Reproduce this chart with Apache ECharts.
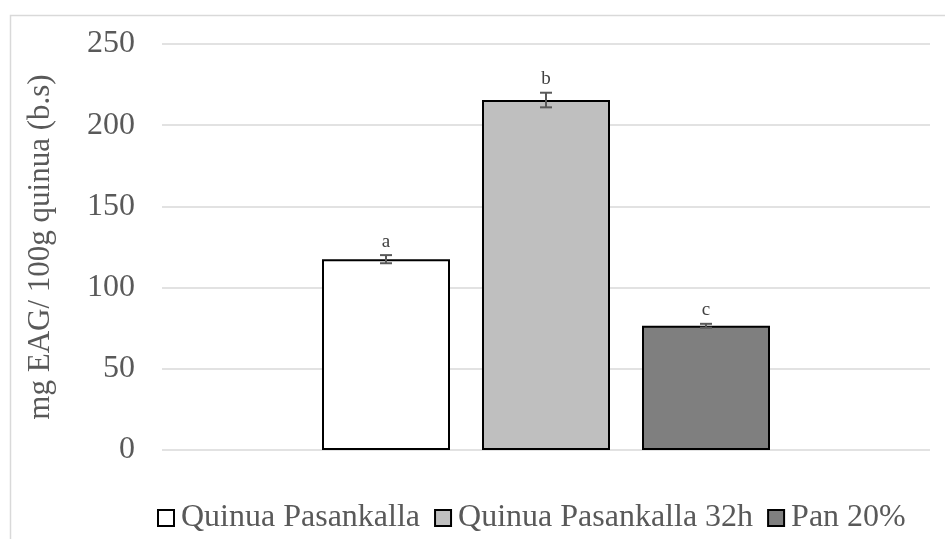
<!DOCTYPE html>
<html><head><meta charset="utf-8">
<script src="https://cdn.jsdelivr.net/npm/echarts@6/dist/echarts.min.js"></script>
<style>html,body{margin:0;padding:0;background:#fff}#c{width:945px;height:539px}</style>
</head><body><div id="c"></div>
<script>
const seriesNames = ['Quinua Pasankalla', 'Quinua Pasankalla 32h', 'Pan 20%'];
const values = [117.5, 215.5, 76.5];
const errors = [2.5, 4.5, 1.2];
const letters = ['a', 'b', 'c'];
const colors = ['#ffffff', '#bfbfbf', '#7f7f7f'];
const yTicks = [0, 50, 100, 150, 200, 250];
const yAxisTitle = 'mg EAG/ 100g quinua (b.s)';

const font = 'Liberation Serif';
const chart = echarts.init(document.getElementById('c'));
const series = [];
seriesNames.forEach((n, i) => {
  series.push({
    name: n, type: 'bar', data: [values[i]], barWidth: 128, barGap: '25%',
    itemStyle: { color: colors[i], borderColor: '#000', borderWidth: 2 },
    emphasis: { disabled: true }
  });
});
seriesNames.forEach((n, i) => {
  series.push({
    type: 'custom', name: n + '_err', silent: true, z: 5,
    data: [[0, values[i], errors[i], letters[i]]],
    renderItem: function (params, api) {
      const base = api.coord([0, 0]);
      const off = (i - 1) * (128 + 32);
      const x = base[0] + off;
      const v = api.value(1), e = api.value(2);
      const yt = api.coord([0, v + e])[1];
      const yb = api.coord([0, v - e])[1];
      const hw = 6;
      const st = { stroke: '#595959', lineWidth: 2 };
      return {
        type: 'group', children: [
          { type: 'line', shape: { x1: x, y1: yt, x2: x, y2: yb }, style: st },
          { type: 'line', shape: { x1: x - hw, y1: yt, x2: x + hw, y2: yt }, style: st },
          { type: 'line', shape: { x1: x - hw, y1: yb, x2: x + hw, y2: yb }, style: st },
          { type: 'text', x: x, y: yt - 4, style: { text: api.value(3), fill: '#404040', font: '19px "Liberation Serif"', align: 'center', verticalAlign: 'bottom' } }
        ]
      };
    }
  });
});

chart.setOption({
  animation: false,
  graphic: [{ type: 'rect', left: 8, top: 13, shape: { width: 945, height: 540 }, style: { fill: 'none', stroke: '#d9d9d9', lineWidth: 1.5 }, silent: true }],
  grid: { left: 162, right: 15, top: 44, bottom: 89 },
  legend: {
    data: seriesNames, top: 497, left: 152, itemWidth: 16, itemHeight: 16, itemGap: 14,
    icon: 'rect',
    itemStyle: { borderColor: '#000', borderWidth: 2 },
    textStyle: { fontFamily: font, fontSize: 32, color: '#595959', padding: [0, 0, 0, 2] }
  },
  xAxis: { type: 'category', data: [''], axisLine: { show: false }, axisTick: { show: false }, axisLabel: { show: false } },
  yAxis: {
    type: 'value', min: 0, max: 250, interval: 50,
    name: yAxisTitle, nameLocation: 'middle', nameGap: 106, nameRotate: 90,
    nameTextStyle: { fontFamily: font, fontSize: 31, color: '#595959' },
    axisLabel: { fontFamily: font, fontSize: 32, color: '#595959', margin: 27, formatter: v => yTicks.includes(v) ? String(v) : '' },
    splitLine: { lineStyle: { color: '#d9d9d9', width: 1.5 } },
    axisLine: { show: false }, axisTick: { show: false }
  },
  series: series
});
</script></body></html>
